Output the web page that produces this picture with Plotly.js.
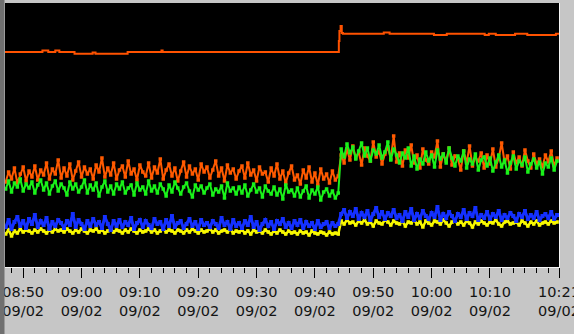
<!DOCTYPE html>
<html>
<head>
<meta charset="utf-8">
<script src="https://cdn.plot.ly/plotly-3.0.1.min.js"></script>
<style>
  html, body { margin: 0; padding: 0; background: #c6c6c6; }
  #chart { width: 574px; height: 334px; }
</style>
</head>
<body>
<div id="chart"></div>
<script>
// ---------- data ----------
const chartDate = '2010-09-02';
const sampleStart = '08:47:00';      // first sample time
const sampleStepSec = 30;            // one sample every 30 s

// x-axis tick labels (last one sits at the right end of the axis)
const tickTimes = ['08:50','09:00','09:10','09:20','09:30','09:40','09:50','10:00','10:10'];
const endLabelTime = '10:21';
const endLabelAt = '10:21:50';
const tickDay = '09/02';

// top (reference) line, step-wise
const topTimes = ['08:46:50','08:53:18','08:54:18','08:55:30','08:56:12','08:58:48','09:01:54','09:02:24',
  '09:07:54','09:13:42','09:13:54','09:44:00','09:44:06','09:44:12','09:44:24','09:44:36','09:44:48',
  '09:51:48','09:52:48','10:00:24','10:02:36','10:09:06','10:09:48','10:11:00','10:14:18','10:16:24',
  '10:21:18','10:21:50'];
const topValues = [215,216.5,215,216.5,215,213.3,214.5,213.3,
  215,216.5,215,215,226,236,241,234,233.3,
  234.5,233.3,232,233.3,232,233.3,232,233.3,232,
  233.3,233.3];

// noisy series (one value per sample)
const orangeValues = [
  85,95,88,99,84,93,100,86,96,90, 101,87,97,92,104,88,98,93,107,89,
  99,91,103,87,96,105,90,100,93,98, 88,102,95,109,90,99,92,104,88,97,
  101,90,106,93,98,87,102,95,91,104, 89,100,94,108,88,97,103,91,99,86,
  96,105,90,101,93,98,87,103,95,100, 89,97,106,91,99,86,102,94,98,88,
  96,101,89,104,92,97,86,100,93,95, 85,99,91,103,88,96,84,94,101,87,
  92,83,97,89,100,85,94,82,98,88, 93,84,96,87,91,
  112,104,118,107,121,109,115,102,119,111, 106,125,110,116,103,113,120,108,131,105,
  114,101,117,109,122,104,112,99,118,107, 103,115,110,126,100,113,106,119,102,111,
  108,97,116,104,121,101,110,106,114,99, 112,103,118,100,109,124,105,111,98,115,
  104,110,101,117,106,99,113,103,108,100, 112,105,116,101,109];
const greenValues = [
  78,86,75,84,80,88,76,83,79,85, 74,82,87,77,84,73,81,86,76,83,
  79,72,85,78,83,75,80,87,74,82, 77,84,71,80,86,75,81,73,83,78,
  85,74,79,82,72,84,77,80,73,86, 76,81,74,83,78,71,82,75,85,79,
  73,80,84,76,70,82,77,81,74,79, 83,72,78,75,81,69,84,76,79,73,
  80,74,82,71,77,83,75,79,70,81, 76,73,80,72,78,68,82,75,77,71,
  79,70,76,81,69,77,73,80,67,75, 78,71,76,69,74,
  118,110,123,114,120,108,116,124,111,119, 106,117,113,122,109,115,125,107,118,112,
  104,114,109,119,101,111,98,108,103,115, 106,112,100,117,108,113,104,119,109,101,
  111,106,116,99,108,103,113,97,107,110, 101,109,96,105,112,100,107,94,104,111,
  98,106,102,110,95,103,108,99,105,93, 104,100,109,97,106];
const blueValues = [
  40,47,38,45,50,41,46,39,48,43, 52,40,46,42,49,38,45,41,47,44,
  39,46,42,53,40,47,43,38,46,41, 48,42,45,39,50,43,37,46,41,47,
  40,45,42,49,38,44,47,40,46,42, 39,48,43,45,38,47,41,51,40,44,
  46,39,43,48,41,45,38,47,42,44, 40,46,43,39,49,42,45,38,47,41,
  44,39,46,42,50,40,45,37,43,47, 41,45,38,46,43,48,40,44,39,46,
  42,47,39,45,41,44,38,46,40,43, 45,39,44,41,43,
  53,57,49,55,51,58,48,54,50,56, 47,53,59,50,55,48,54,51,57,49,
  52,46,55,50,58,47,53,49,56,51, 48,54,50,60,47,53,49,55,51,46,
  53,50,57,48,54,51,59,47,52,49, 55,48,53,50,56,47,52,49,54,51,
  46,53,50,56,48,52,49,55,47,51, 53,49,55,48,52];
const yellowValues = [
  33,37,31,36,34,38,35,37,36,34, 37,35,38,36,34,37,35,38,36,37,
  35,38,36,34,37,35,38,36,34,37, 36,38,35,37,34,36,38,35,37,36,
  34,37,35,38,36,34,37,35,36,38, 35,37,34,36,38,35,37,36,34,37,
  36,34,37,35,38,36,34,37,35,36, 38,35,37,34,36,37,35,38,34,36,
  35,37,34,36,33,37,35,36,34,37, 35,33,36,34,37,35,33,36,34,35,
  33,36,34,35,32,36,34,33,35,34, 32,35,33,34,33,
  46,43,47,44,45,42,46,44,47,43, 45,41,46,44,43,47,45,42,46,44,
  43,46,41,45,44,47,43,45,40,46, 44,42,46,45,43,47,44,41,45,46,
  43,45,42,46,44,40,45,43,46,44, 42,45,44,47,43,41,45,46,43,44,
  45,42,46,44,41,45,43,46,42,44, 45,43,46,44,45];

// ---------- helpers ----------
const pad = n => String(n).padStart(2, '0');
function toSec(hms) { const p = hms.split(':').map(Number); return p[0]*3600 + p[1]*60 + (p[2] || 0); }
function stamp(sec) {
  return chartDate + ' ' + pad(Math.floor(sec/3600)) + ':' + pad(Math.floor(sec%3600/60)) + ':' + pad(sec%60);
}
const startSec = toSec(sampleStart);
const sampleX = orangeValues.map((_, i) => stamp(startSec + i*sampleStepSec));
const topX = topTimes.map(t => stamp(toSec(t)));

function noisy(vals, color, lw, ms) {
  return {
    type: 'scatter', mode: 'lines+markers', x: sampleX, y: vals,
    line: { color: color, width: lw },
    marker: { color: color, size: ms, symbol: 'square' },
    hoverinfo: 'skip', showlegend: false
  };
}

const traces = [
  { type: 'scatter', mode: 'lines', x: topX, y: topValues, line: { color: '#ff5200', width: 2, shape: 'hv' },
    hoverinfo: 'skip', showlegend: false },
  noisy(orangeValues, '#ff5a00', 2, 3.5),
  noisy(greenValues, '#1af21a', 2, 3.5),
  noisy(yellowValues, '#f8f800', 2.5, 3.5),
  noisy(blueValues, '#1430ff', 3, 4)
];

// plot area in pixels
const W = 574, H = 334, L = 5, R = 15, T = 3, B = 67;
const pw = W - L - R, ph = H - T - B;

const tickVals = tickTimes.map(t => chartDate + ' ' + t + ':00').concat([chartDate + ' ' + endLabelAt]);
const tickText = tickTimes.concat([endLabelTime]).map(t => t + '<br>' + tickDay);

const layout = {
  width: W, height: H,
  margin: { l: L, r: R, t: T, b: B, pad: 0 },
  paper_bgcolor: '#c6c6c6',
  plot_bgcolor: '#000000',
  showlegend: false,
  xaxis: {
    type: 'date',
    range: [chartDate + ' 08:46:53', chartDate + ' ' + endLabelAt],
    tickmode: 'array',
    tickvals: tickVals,
    ticktext: tickText,
    ticks: 'outside', ticklen: 10, tickwidth: 1, tickcolor: '#000',
    minor: { tickmode: 'linear', tick0: chartDate + ' 08:50:00', dtick: 120000,
             ticks: 'outside', ticklen: 5, tickwidth: 1, tickcolor: '#000', showgrid: false },
    showgrid: false, zeroline: false,
    showline: true, linecolor: '#f4f4f4', linewidth: 1,
    tickfont: { family: 'DejaVu Sans', size: 14.5, color: '#141414' },
    ticklabelstandoff: 2,
    ticklabeloverflow: 'allow',
    fixedrange: true
  },
  yaxis: {
    range: [0, 264], side: 'right',
    showticklabels: false, ticks: '', showgrid: false, zeroline: false,
    showline: true, linecolor: '#f4f4f4', linewidth: 1,
    fixedrange: true
  },
  shapes: [
    { type: 'rect', xref: 'paper', yref: 'paper', layer: 'above',
      x0: -L/pw, x1: -0.5/pw, y0: -B/ph, y1: 1 + T/ph,
      fillcolor: '#707070', line: { width: 0 } }
  ]
};

Plotly.newPlot('chart', traces, layout, { staticPlot: true, displayModeBar: false });
</script>
</body>
</html>
